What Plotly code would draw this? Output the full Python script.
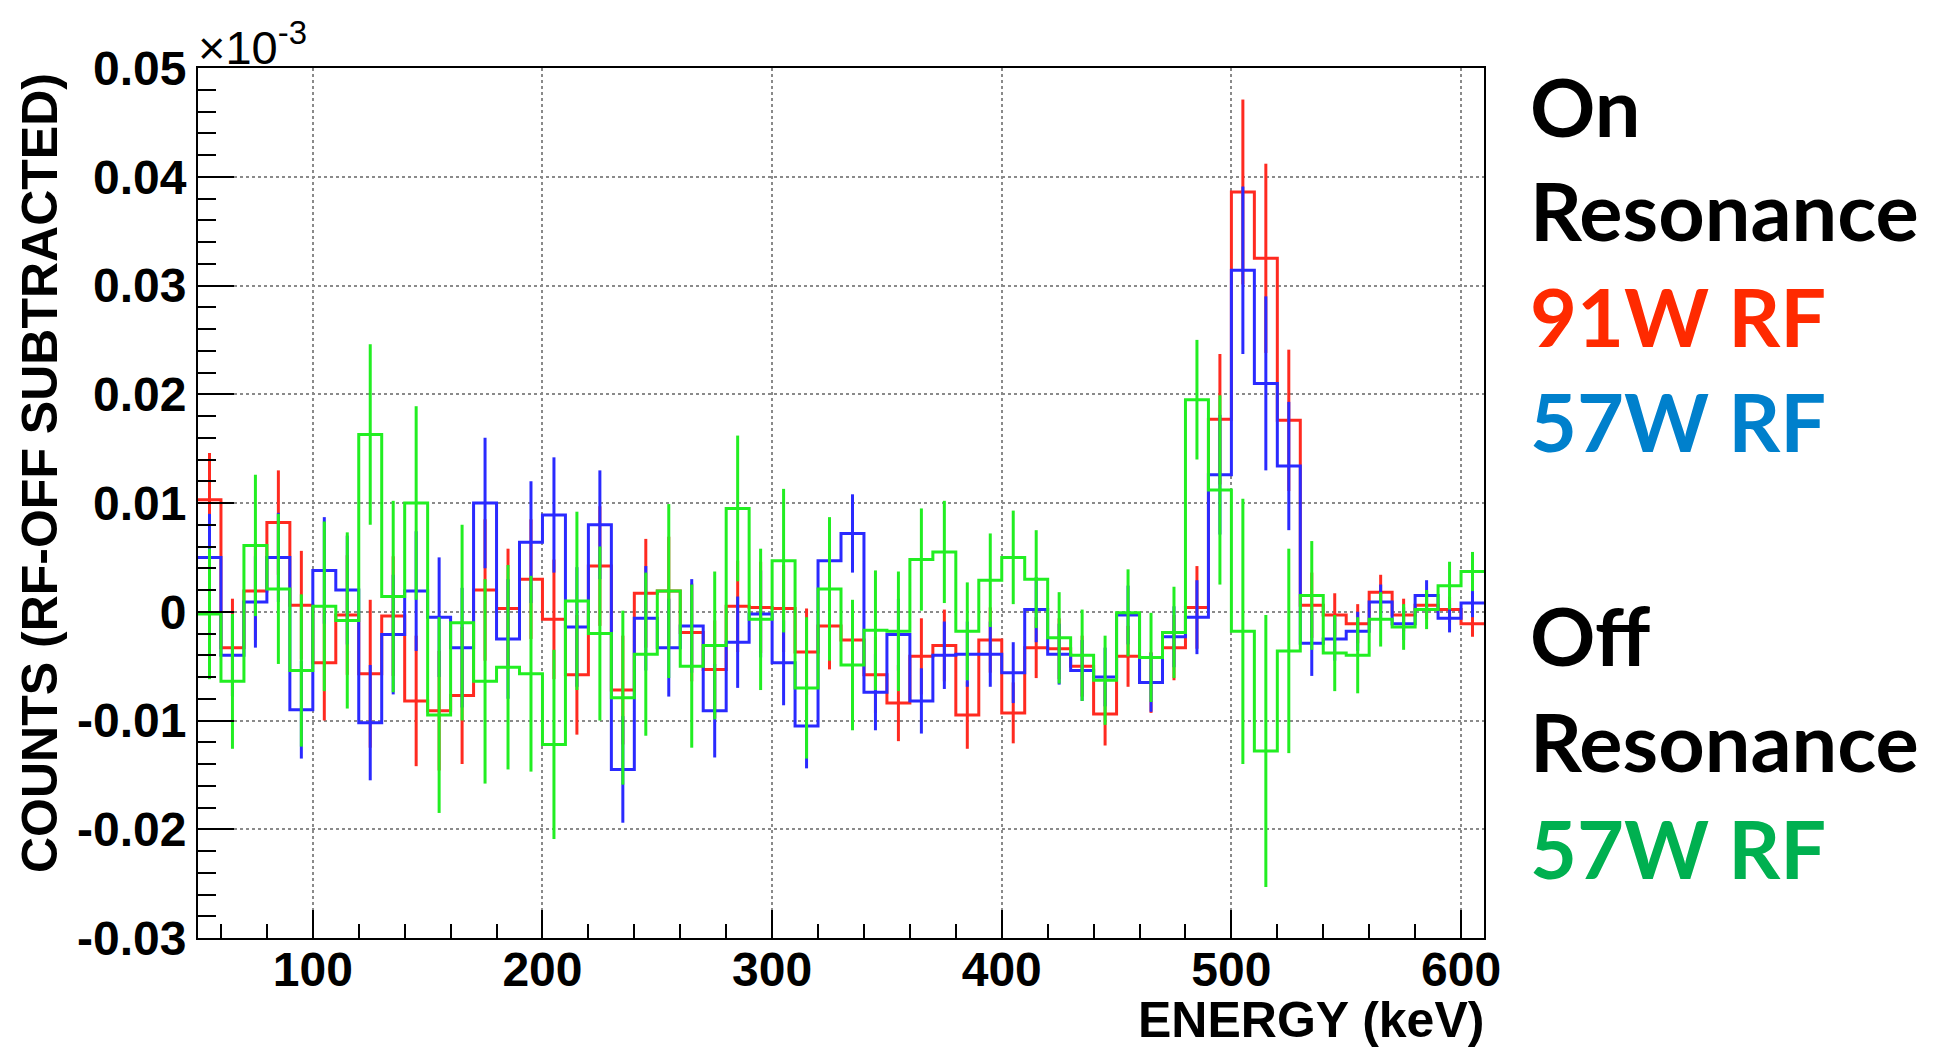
import plotly.graph_objects as go

# ---------------- data ----------------
bin_lo = list(range(50, 610, 10))  # lower bin edges, 10 keV bins, 50..600

red_91W = [0.0103, -0.0033, 0.0019, 0.0082, 0.0006, -0.0047, -0.0003, -0.0057, -0.0004, -0.0082,
           -0.0091, -0.0077, 0.0020, 0.0003, 0.0030, -0.0007, -0.0058, 0.0042, -0.0072, 0.0017,
           0.0019, -0.0019, -0.0053, 0.0005, 0.0004, 0.0003, -0.0037, -0.0013, -0.0026, -0.0058,
           -0.0084, -0.0041, -0.0031, -0.0095, -0.0026, -0.0093, -0.0033, -0.0034, -0.0050, -0.0094,
           -0.0041, -0.0065, -0.0033, 0.0004, 0.0177, 0.0386, 0.0325, 0.0176, 0.0006, -0.0003,
           -0.0011, 0.0018, -0.0003, 0.0006, 0.0002, -0.0011]
red_err = [0.0043, 0.0045, 0.0045, 0.0048, 0.0050, 0.0053, 0.0055, 0.0068, 0.0055, 0.0060,
           0.0055, 0.0063, 0.0065, 0.0055, 0.0055, 0.0055, 0.0055, 0.0055, 0.0050, 0.0050,
           0.0050, 0.0045, 0.0045, 0.0042, 0.0042, 0.0040, 0.0040, 0.0040, 0.0036, 0.0035,
           0.0035, 0.0035, 0.0033, 0.0031, 0.0030, 0.0028, 0.0028, 0.0028, 0.0028, 0.0029,
           0.0028, 0.0028, 0.0030, 0.0038, 0.0060, 0.0085, 0.0087, 0.0065, 0.0030, 0.0020,
           0.0018, 0.0016, 0.0015, 0.0013, 0.0012, 0.0012]

blue_57W = [0.0050, -0.0040, 0.0009, 0.0050, -0.0090, 0.0038, 0.0020, -0.0102, -0.0021, 0.0019,
            -0.0005, -0.0033, 0.0100, -0.0025, 0.0064, 0.0089, -0.0014, 0.0080, -0.0145, -0.0006,
            -0.0033, -0.0013, -0.0091, -0.0028, -0.0002, -0.0047, -0.0105, 0.0047, 0.0072, -0.0074,
            -0.0021, -0.0082, -0.0040, -0.0039, -0.0039, -0.0056, 0.0002, -0.0039, -0.0054, -0.0060,
            -0.0003, -0.0065, -0.0023, -0.0005, 0.0126, 0.0314, 0.0210, 0.0134, -0.0029, -0.0025,
            -0.0018, 0.0009, -0.0011, 0.0015, -0.0006, 0.0008]
blue_err = [0.0040, 0.0038, 0.0042, 0.0041, 0.0045, 0.0049, 0.0050, 0.0053, 0.0055, 0.0055,
            0.0055, 0.0055, 0.0060, 0.0055, 0.0056, 0.0053, 0.0055, 0.0050, 0.0049, 0.0048,
            0.0045, 0.0043, 0.0043, 0.0042, 0.0040, 0.0039, 0.0039, 0.0039, 0.0036, 0.0035,
            0.0033, 0.0030, 0.0031, 0.0030, 0.0030, 0.0028, 0.0030, 0.0028, 0.0028, 0.0027,
            0.0027, 0.0027, 0.0028, 0.0034, 0.0055, 0.0077, 0.0080, 0.0059, 0.0030, 0.0020,
            0.0018, 0.0016, 0.0015, 0.0014, 0.0013, 0.0013]

green_off = [-0.0002, -0.0064, 0.0061, 0.0021, -0.0054, 0.0005, -0.0008, 0.0163, 0.0014, 0.0100,
             -0.0095, -0.0010, -0.0064, -0.0051, -0.0057, -0.0122, 0.0010, -0.0020, -0.0079, -0.0039,
             0.0019, -0.0050, -0.0031, 0.0095, -0.0007, 0.0047, -0.0070, 0.0021, -0.0049, -0.0017,
             -0.0018, 0.0048, 0.0055, -0.0018, 0.0029, 0.0050, 0.0030, -0.0024, -0.0040, -0.0063,
             -0.0001, -0.0042, -0.0019, 0.0195, 0.0112, -0.0018, -0.0128, -0.0036, 0.0015, -0.0038,
             -0.0040, -0.0007, -0.0014, 0.0002, 0.0024, 0.0037]
green_err = [0.0060, 0.0062, 0.0065, 0.0069, 0.0070, 0.0078, 0.0081, 0.0083, 0.0088, 0.0089,
             0.0090, 0.0090, 0.0094, 0.0094, 0.0090, 0.0087, 0.0082, 0.0080, 0.0080, 0.0075,
             0.0080, 0.0075, 0.0068, 0.0067, 0.0065, 0.0066, 0.0065, 0.0066, 0.0060, 0.0055,
             0.0055, 0.0047, 0.0047, 0.0045, 0.0043, 0.0043, 0.0045, 0.0042, 0.0042, 0.0041,
             0.0040, 0.0041, 0.0042, 0.0055, 0.0087, 0.0122, 0.0125, 0.0094, 0.0050, 0.0035,
             0.0035, 0.0025, 0.0021, 0.0018, 0.0022, 0.0018]

y_tickvals = [-0.03, -0.02, -0.01, 0.0, 0.01, 0.02, 0.03, 0.04, 0.05]
y_ticktext = ["-0.03", "-0.02", "-0.01", "0", "0.01", "0.02", "0.03", "0.04", "0.05"]
x_tickvals = [100, 200, 300, 400, 500, 600]

legend_lines = [("On", "#000000"), ("Resonance", "#000000"), ("91W RF", "#FF2A00"),
                ("57W RF", "#0080CC"), ("Off", "#000000"), ("Resonance", "#000000"),
                ("57W RF", "#00B050")]
legend_ypix = [105, 209, 315, 420, 634, 740, 847]

# ---------------- figure ----------------
BW = 10
edges = bin_lo + [bin_lo[-1] + BW]
centers = [b + BW / 2 for b in bin_lo]

W, H = 1944, 1051
L, R, T, B = 198, 1484, 68, 938

fig = go.Figure()
series = [(red_91W, red_err, "#ff2a20"), (blue_57W, blue_err, "#2a2aff"), (green_off, green_err, "#22ee22")]
for vals, errs, col in series:
    fig.add_trace(go.Scatter(x=edges, y=vals + [vals[-1]], mode="lines", line_shape="hv",
                             line=dict(color=col, width=3), hoverinfo="skip", showlegend=False))
    fig.add_trace(go.Scatter(x=centers, y=vals, mode="markers",
                             marker=dict(size=1, color="rgba(0,0,0,0)"),
                             error_y=dict(type="data", array=errs, visible=True, color=col,
                                          thickness=3, width=0),
                             showlegend=False))

tickfont = dict(family="Liberation Sans, Arial, sans-serif", size=48, color="black", weight="bold")
fig.update_xaxes(range=[50, 610], tickvals=x_tickvals, ticks="inside", ticklen=28, tickwidth=2,
                 tickcolor="black", showline=True, linecolor="black", linewidth=2, mirror=True,
                 showgrid=True, gridcolor="#8a8a8a", gridwidth=2, griddash="dot",
                 tickfont=tickfont, zeroline=False, ticklabelstandoff=-12,
                 minor=dict(ticks="inside", ticklen=14, tickwidth=2, tickcolor="black",
                            dtick=20, tick0=0, showgrid=False))
fig.update_yaxes(range=[-0.03, 0.05], tickvals=y_tickvals, ticktext=y_ticktext, ticks="inside",
                 ticklen=36, tickwidth=2, tickcolor="black", showline=True, linecolor="black",
                 linewidth=2, mirror=True, showgrid=True, gridcolor="#8a8a8a", gridwidth=2,
                 griddash="dot", tickfont=tickfont, zeroline=False,
                 minor=dict(ticks="inside", ticklen=18, tickwidth=2, tickcolor="black",
                            dtick=0.002, tick0=0, showgrid=False))

def px_x(p):
    return (p - L) / (R - L)

def px_y(p):
    return (B - p) / (B - T)

ann = []
ann.append(dict(text="ENERGY (keV)", x=px_x(1486), y=px_y(1020), xref="paper", yref="paper",
                xanchor="right", yanchor="middle", showarrow=False,
                font=dict(family="Liberation Sans, Arial, sans-serif", size=50, color="black",
                          weight="bold")))
ann.append(dict(text="COUNTS (RF-OFF SUBTRACTED)", x=px_x(40), y=px_y(473), xref="paper",
                yref="paper", xanchor="center", yanchor="middle", textangle=-90, showarrow=False,
                font=dict(family="Liberation Sans, Arial, sans-serif", size=50, color="black",
                          weight="bold")))
ann.append(dict(text="\u00d710<sup>-3</sup>", x=px_x(196), y=px_y(44), xref="paper", yref="paper",
                xanchor="left", yanchor="middle", showarrow=False,
                font=dict(family="Liberation Sans, Arial, sans-serif", size=47, color="black")))
for (txt, col), yp in zip(legend_lines, legend_ypix):
    ann.append(dict(text=txt, x=px_x(1528), y=px_y(yp), xref="paper", yref="paper",
                    xanchor="left", yanchor="middle", showarrow=False,
                    font=dict(family="Lato, sans-serif", size=81, color=col, weight="bold")))

fig.update_layout(width=W, height=H, margin=dict(l=L, r=W - R, t=T, b=H - B, pad=0),
                  paper_bgcolor="white", plot_bgcolor="white", annotations=ann,
                  showlegend=False)

fig.write_html("out.html", post_script="document.body.style.margin='0';",
               config={"displayModeBar": False})
